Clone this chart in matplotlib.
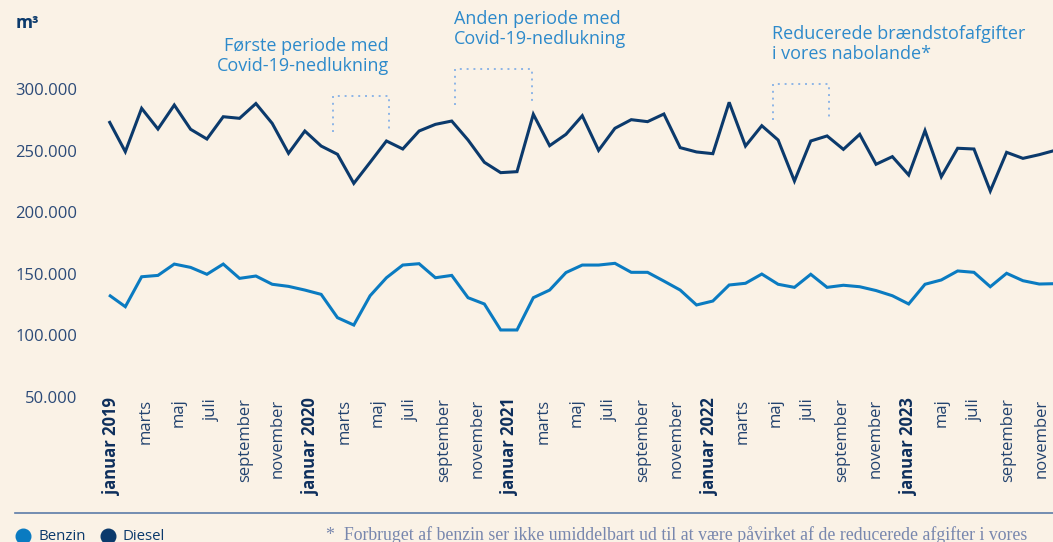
import numpy as np
import matplotlib
matplotlib.use("Agg")
import matplotlib.pyplot as plt
from matplotlib.lines import Line2D

# ---------------- data ----------------
months = np.arange(59)  # 0 = januar 2019

diesel = [274000, 249100, 284300, 267500, 287000, 267300, 259400, 277500, 276200, 288200,
          272100, 247800, 265900, 253700, 247000, 223400, 240500, 257800, 251300, 265900,
          271300, 274000, 258600, 240500, 232100, 232900, 279500, 254000, 263200, 278300,
          250200, 268100, 275100, 273500, 279700, 252400, 248900, 247500, 289200, 253700,
          270200, 258600, 225300, 257800, 261900, 251000, 263200, 238900, 245100, 230200,
          266200, 228800, 251900, 251300, 217200, 248600, 243700, 246700, 250300]

benzin = [132800, 123300, 147600, 148700, 157900, 155200, 149600, 157900, 146300, 148200,
          141500, 139800, 136800, 133300, 114400, 108400, 132200, 146800, 157100, 158200,
          146800, 148700, 130600, 125500, 104400, 104400, 130600, 136800, 151000, 157100,
          157100, 158500, 151200, 151200, 144100, 136800, 124700, 127900, 140900, 142300,
          149800, 141500, 139000, 149600, 139000, 140700, 139500, 136400, 132200, 125500,
          141500, 145000, 152300, 151200, 139500, 150400, 144400, 141700, 142000]

ytick_values = [50000, 100000, 150000, 200000, 250000, 300000]
ytick_labels = ["50.000", "100.000", "150.000", "200.000", "250.000", "300.000"]

xtick_labels = ["januar 2019", "marts", "maj", "juli", "september", "november",
                "januar 2020", "marts", "maj", "juli", "september", "november",
                "januar 2021", "marts", "maj", "juli", "september", "november",
                "januar 2022", "marts", "maj", "juli", "september", "november",
                "januar 2023", "maj", "juli", "september", "november"]

# annotation spans (month index, m3)
brackets = [(13.7, 17.15, 265000, 294500),
            (21.2, 25.9, 287000, 316200),
            (40.7, 44.1, 274800, 304000)]

# ---------------- style ----------------
BG = "#FAF2E6"
DIESEL = "#0B3A6C"
BENZIN = "#0A7BC1"
ANNOT = "#2D8ACB"
DOT = "#8DB5E6"
TICK = "#2B4A78"
MONTH = "#23436F"
BOLD = "#0E2F5C"
RULE = "#5C7CA8"
FOOT = "#7887AE"

plt.rcParams['font.family'] = ['Open Sans', 'DejaVu Sans']

W, H = 1053, 542
fig = plt.figure(figsize=(W / 100, H / 100), dpi=100)
fig.patch.set_facecolor(BG)


def fx(px):
    return px / W


def fy(py):
    return 1 - py / H


ax = fig.add_axes([fx(100), fy(397), fx(1053) - fx(100), (397 - 60) / H])
ax.set_facecolor(BG)

x0, step = 109, 16.32
ax.set_xlim((100 - x0) / step, (1053 - x0) / step)
ax.set_ylim(50000, 300000 + (89 - 60) * 50000 / 61.6)

ax.plot(months, benzin, color=BENZIN, lw=2.2, solid_joinstyle='miter', solid_capstyle='butt')
ax.plot(months, diesel, color=DIESEL, lw=2.2, solid_joinstyle='miter', solid_capstyle='butt')

for (xa, xb, yb, yt) in brackets:
    ax.plot([xa, xa, xb, xb], [yb, yt, yt, yb], color=DOT, lw=1.4,
            ls=(0, (1, 2.5)), clip_on=False)

for s in ax.spines.values():
    s.set_visible(False)

ax.set_yticks(ytick_values, ytick_labels)
ax.tick_params(axis='y', length=0, pad=16.5, labelsize=12, labelcolor=TICK)

label_step = 33.2 / step
xt = (112 - x0) / step + np.arange(len(xtick_labels)) * label_step
ax.set_xticks(xt, xtick_labels, rotation=90)
ax.tick_params(axis='x', length=0, pad=1, labelsize=12, labelcolor=MONTH)
for t in ax.get_xticklabels():
    if t.get_text().startswith("januar"):
        t.set_fontweight('bold')
        t.set_color(BOLD)

# unit label
fig.text(fx(16), fy(23), "m³", fontsize=12.5, fontweight='bold', color=DIESEL,
         ha='left', va='center')

# annotations
fig.text(fx(389), fy(56), "Første periode med\nCovid-19-nedlukning", ha='right',
         va='center', fontsize=13, color=ANNOT, linespacing=1.17)
fig.text(fx(454), fy(29), "Anden periode med\nCovid-19-nedlukning", ha='left',
         va='center', fontsize=13, color=ANNOT, linespacing=1.17)
fig.text(fx(772), fy(44), "Reducerede brændstofafgifter\ni vores nabolande*", ha='left',
         va='center', fontsize=13, color=ANNOT, linespacing=1.17)

# rule
fig.add_artist(Line2D([fx(15), 1.0], [fy(512.5), fy(512.5)], transform=fig.transFigure,
                      color=RULE, lw=1.2))

# legend
fig.add_artist(Line2D([fx(23)], [fy(535.5)], transform=fig.transFigure, marker='o',
                      ms=10.5, color=BENZIN, ls='none'))
fig.text(fx(38), fy(540.5), "Benzin", ha='left', va='baseline', fontsize=10.8, color=DIESEL)
fig.add_artist(Line2D([fx(107.5)], [fy(535.5)], transform=fig.transFigure, marker='o',
                      ms=10.5, color=DIESEL, ls='none'))
fig.text(fx(123), fy(540.5), "Diesel", ha='left', va='baseline', fontsize=10.8, color=DIESEL)

# footnote
fig.text(fx(326), fy(540.5),
         "*  Forbruget af benzin ser ikke umiddelbart ud til at være påvirket af de reducerede afgifter i vores",
         ha='left', va='baseline', fontsize=12.75, color=FOOT, family=['Liberation Serif', 'DejaVu Serif'])

fig.savefig("out.png", dpi=100, facecolor=BG)
